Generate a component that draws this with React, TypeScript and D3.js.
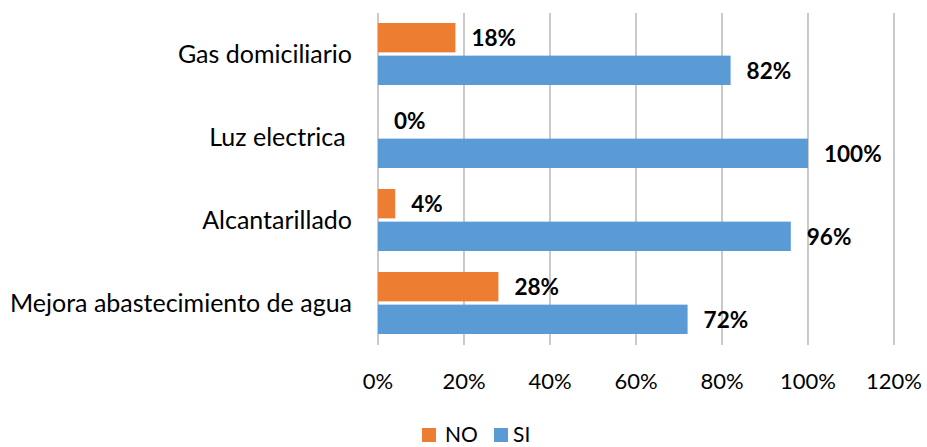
import React from "react";
import * as d3 from "d3";

const categories = ["Gas domiciliario", "Luz electrica ", "Alcantarillado", "Mejora abastecimiento de agua"];
const seriesNames = ["NO", "SI"];
const noValues = [18, 0, 4, 28];
const siValues = [82, 100, 96, 72];
const ticks = [0, 20, 40, 60, 80, 100, 120];
const colors = ["#ED7D31", "#5B9BD5"];

export default function App() {
  const W = 927, H = 447;
  const x = d3.scaleLinear().domain([0, 120]).range([378, 894]);
  const y = d3.scaleBand().domain(categories).range([13, 345]).paddingInner(0).paddingOuter(0);
  const inner = d3.scaleBand().domain(seriesNames).range([10, y.bandwidth() - 11]).paddingInner(0.1);
  const font = "Lato, 'Open Sans', sans-serif";
  const series = [noValues, siValues];
  return (
    <svg width={W} height={H} style={{ position: "absolute", left: 0, top: 0, background: "#fff" }}>
      {ticks.map((t) => (
        <line key={t} x1={x(t)} x2={x(t)} y1={13} y2={345} stroke="#ADADAD" strokeWidth={1.3} />
      ))}
      {categories.map((c, i) => (
        <g key={c}>
          {series.map((vals, s) => {
            const yy = (y(c) as number) + (inner(seriesNames[s]) as number);
            const h = inner.bandwidth();
            return (
              <g key={s}>
                {vals[i] > 0 && (
                  <rect x={x(0)} y={yy} width={x(vals[i]) - x(0)} height={h} fill={colors[s]} />
                )}
                <text x={x(vals[i]) + 16} y={yy + h / 2 + 0.5} dy="0.36em" fontFamily={font} fontWeight={700} fontSize={22.5} fill="#000">
                  {vals[i]}%
                </text>
              </g>
            );
          })}
          <text x={352} y={(y(c) as number) + y.bandwidth() / 2 - 0.5} dy="0.36em" textAnchor="end" fontFamily={font} fontSize={25} fill="#000" style={{ whiteSpace: "pre" }}>
            {c}
          </text>
        </g>
      ))}
      {ticks.map((t) => (
        <text key={t} x={x(t)} y={381} dy="0.36em" textAnchor="middle" fontFamily={font} fontSize={22} fill="#000">
          {t}%
        </text>
      ))}
      <rect x={422} y={428} width={14} height={14} fill={colors[0]} />
      <text x={445} y={434} dy="0.36em" fontFamily={font} fontSize={21} fill="#000">NO</text>
      <rect x={494} y={428} width={14} height={14} fill={colors[1]} />
      <text x={513} y={434} dy="0.36em" fontFamily={font} fontSize={21} fill="#000">SI</text>
    </svg>
  );
}
